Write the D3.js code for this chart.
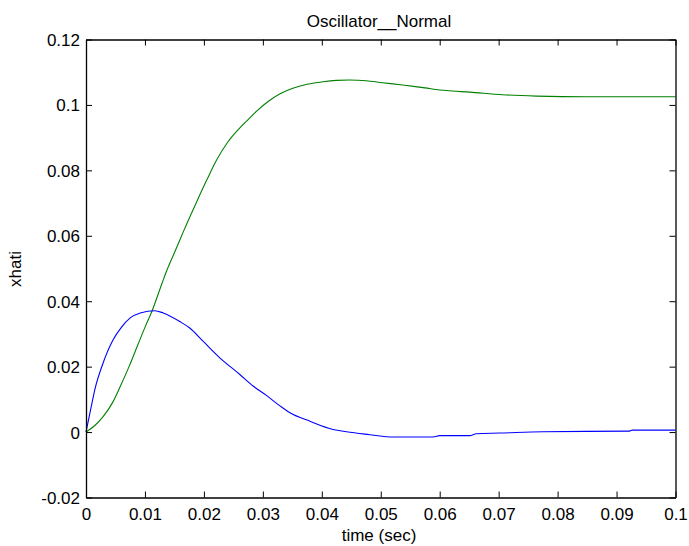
<!DOCTYPE html>
<html>
<head>
<meta charset="utf-8">
<script src="https://cdn.jsdelivr.net/npm/d3@7"></script>
<style>
  html, body { margin: 0; padding: 0; background: #fff; }
  svg { display: block; }
  text { font-family: "Liberation Sans", Arial, sans-serif; fill: #000; }
</style>
</head>
<body>
<svg id="chart" width="689" height="546"></svg>
<script>
const titleText = "Oscillator__Normal";
const xLabelText = "time (sec)";
const yLabelText = "xhati";

const xTicks = [0, 0.01, 0.02, 0.03, 0.04, 0.05, 0.06, 0.07, 0.08, 0.09, 0.1];
const xTickLabels = ["0", "0.01", "0.02", "0.03", "0.04", "0.05", "0.06", "0.07", "0.08", "0.09", "0.1"];
const yTicks = [-0.02, 0, 0.02, 0.04, 0.06, 0.08, 0.1, 0.12];
const yTickLabels = ["-0.02", "0", "0.02", "0.04", "0.06", "0.08", "0.1", "0.12"];

const greenT = [0, 0.0015, 0.0029, 0.0045, 0.0058, 0.0073, 0.0088, 0.0100, 0.0112, 0.0129, 0.0137, 0.0150, 0.0165, 0.0188, 0.0205, 0.0222, 0.0240, 0.0258, 0.0275, 0.0289, 0.0310, 0.0330, 0.0351, 0.0375, 0.0402, 0.0425, 0.0447, 0.0475, 0.0503, 0.0537, 0.0575, 0.0611, 0.0651, 0.0707, 0.0764, 0.085, 0.1];
const greenY = [0, 0.0020, 0.0047, 0.0090, 0.0139, 0.0200, 0.0267, 0.0320, 0.0370, 0.0455, 0.0494, 0.0548, 0.0612, 0.0705, 0.0771, 0.0833, 0.0885, 0.0924, 0.0955, 0.0980, 0.1012, 0.1035, 0.1051, 0.1063, 0.1071, 0.1075, 0.1076, 0.1074, 0.1068, 0.1061, 0.1052, 0.1044, 0.1039, 0.1031, 0.1027, 0.1025, 0.1025];

const blueT = [0, 0.0008, 0.0015, 0.0029, 0.0046, 0.0060, 0.0075, 0.0092, 0.0117, 0.0131, 0.0159, 0.0176, 0.0199, 0.0227, 0.0261, 0.0284, 0.0306, 0.0329, 0.0346, 0.0380, 0.0419, 0.0442, 0.0481, 0.0515, 0.0589, 0.0600, 0.0651, 0.0662, 0.0702, 0.0775, 0.0922, 0.0927, 0.1];
const blueY = [0, 0.0070, 0.0130, 0.0211, 0.0282, 0.0320, 0.0349, 0.0364, 0.0371, 0.0364, 0.0338, 0.0318, 0.0277, 0.0227, 0.0176, 0.0140, 0.0112, 0.0080, 0.0059, 0.0033, 0.0008, 0.0001, -0.0008, -0.0015, -0.0015, -0.0011, -0.0011, -0.0005, -0.0003, 0.0001, 0.0003, 0.0006, 0.0006];

const svg = d3.select("#chart");
const L = 86, R = 675.5, T = 39.5, B = 497.5;
const x = d3.scaleLinear().domain([0, 0.1]).range([L, R]);
const y = d3.scaleLinear().domain([-0.02, 0.12]).range([B, T]);
const tickLen = 6;

// series
const line = d3.line().x(d => x(d[0])).y(d => y(d[1])).curve(d3.curveMonotoneX);
svg.append("path").datum(greenT.map((t, i) => [t, greenY[i]]))
  .attr("d", line).attr("fill", "none").attr("stroke", "#008000").attr("stroke-width", 1.1);
svg.append("path").datum(blueT.map((t, i) => [t, blueY[i]]))
  .attr("d", line).attr("fill", "none").attr("stroke", "#0000ff").attr("stroke-width", 1.1);

// axes (MATLAB-style box with inward ticks)
const fs = 17;
const bottomAxis = d3.axisBottom(x).tickValues(xTicks).tickSizeInner(-tickLen).tickSizeOuter(0)
  .tickPadding(10).tickFormat((d, i) => xTickLabels[i]);
const topAxis = d3.axisTop(x).tickValues(xTicks).tickSizeInner(-tickLen).tickSizeOuter(0).tickFormat("");
const leftAxis = d3.axisLeft(y).tickValues(yTicks).tickSizeInner(-tickLen).tickSizeOuter(0)
  .tickPadding(6).tickFormat((d, i) => yTickLabels[i]);
const rightAxis = d3.axisRight(y).tickValues(yTicks).tickSizeInner(-tickLen).tickSizeOuter(0).tickFormat("");

const gB = svg.append("g").attr("transform", `translate(0,${B})`).call(bottomAxis);
const gT = svg.append("g").attr("transform", `translate(0,${T})`).call(topAxis);
const gL = svg.append("g").attr("transform", `translate(${L},0)`).call(leftAxis);
const gR = svg.append("g").attr("transform", `translate(${R},0)`).call(rightAxis);

[gB, gT, gL, gR].forEach(g => {
  g.selectAll(".domain").attr("stroke", "#000").attr("stroke-width", 1.3);
  g.selectAll(".tick line").attr("stroke", "#000").attr("stroke-width", 1);
  g.selectAll("text").style("font-family", '"Liberation Sans", Arial, sans-serif')
    .style("font-size", fs + "px").attr("fill", "#000");
});
gB.selectAll("text").attr("dy", "0.71em");
gL.selectAll("text").attr("dy", "0.35em");

// title and labels
svg.append("text").attr("x", 379).attr("y", 27).attr("text-anchor", "middle")
  .style("font-size", fs + "px").text(titleText);
svg.append("text").attr("x", 379).attr("y", 541).attr("text-anchor", "middle")
  .style("font-size", fs + "px").text(xLabelText);
svg.append("text").attr("transform", "translate(21,269) rotate(-90)").attr("text-anchor", "middle")
  .style("font-size", fs + "px").text(yLabelText);
</script>
</body>
</html>
